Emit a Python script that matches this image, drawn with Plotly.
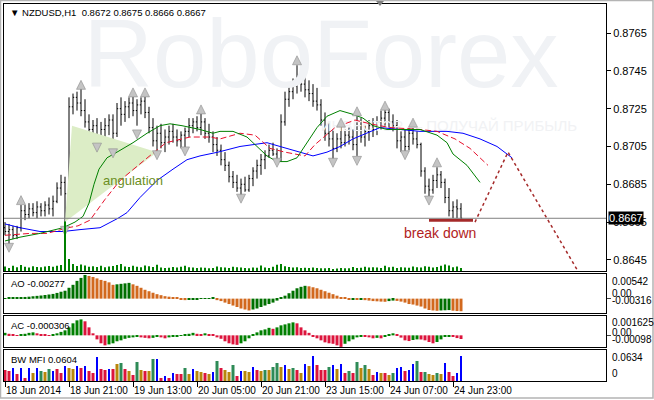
import plotly.graph_objects as go

# NZDUSD H1, one entry per hourly bar; bar 0 = 18 Jun 2014 05:00
opens = [
    0.8662, 0.8660, 0.8661, 0.8658, 0.8662, 0.8671, 0.8669, 0.8672, 0.8670, 0.8673,
    0.8671, 0.8674, 0.8672, 0.8676, 0.8683, 0.8686, 0.8680, 0.8726, 0.8731, 0.8728,
    0.8724, 0.8718, 0.8714, 0.8716, 0.8709, 0.8714, 0.8716, 0.8719, 0.8712, 0.8725,
    0.8722, 0.8726, 0.8728, 0.8724, 0.8727, 0.8729, 0.8723, 0.8715, 0.8708, 0.8712,
    0.8707, 0.8710, 0.8713, 0.8710, 0.8708, 0.8711, 0.8713, 0.8716, 0.8718, 0.8715,
    0.8718, 0.8712, 0.8710, 0.8706, 0.8703, 0.8698, 0.8695, 0.8689, 0.8686, 0.8683,
    0.8685, 0.8682, 0.8688, 0.8692, 0.8695, 0.8698, 0.8700, 0.8703, 0.8701, 0.8698,
    0.8718, 0.8730, 0.8734, 0.8737, 0.8742, 0.8738, 0.8735, 0.8733, 0.8729, 0.8727,
    0.8719, 0.8712, 0.8709, 0.8704, 0.8709, 0.8707, 0.8711, 0.8710, 0.8706, 0.8716,
    0.8710, 0.8713, 0.8716, 0.8714, 0.8718, 0.8720, 0.8723, 0.8718, 0.8716, 0.8708,
    0.8710, 0.8705, 0.8712, 0.8709, 0.8706, 0.8692, 0.8684, 0.8682, 0.8687, 0.8690,
    0.8686, 0.8678, 0.8671, 0.8673, 0.8672,
]
highs = [
    0.8665, 0.8664, 0.8663, 0.8663, 0.8674, 0.8674, 0.8675, 0.8675, 0.8676, 0.8675,
    0.8676, 0.8678, 0.8679, 0.8686, 0.8690, 0.8689, 0.8731, 0.8733, 0.8734, 0.8737,
    0.8730, 0.8722, 0.8719, 0.8720, 0.8718, 0.8720, 0.8722, 0.8722, 0.8728, 0.8731,
    0.8729, 0.8731, 0.8733, 0.8730, 0.8731, 0.8734, 0.8726, 0.8720, 0.8716, 0.8717,
    0.8714, 0.8716, 0.8717, 0.8714, 0.8713, 0.8715, 0.8720, 0.8720, 0.8721, 0.8723,
    0.8720, 0.8717, 0.8713, 0.8710, 0.8706, 0.8702, 0.8697, 0.8692, 0.8690, 0.8688,
    0.8689, 0.8690, 0.8694, 0.8698, 0.8701, 0.8703, 0.8706, 0.8707, 0.8704, 0.8722,
    0.8734, 0.8738, 0.8741, 0.8748, 0.8746, 0.8743, 0.8740, 0.8738, 0.8736, 0.8730,
    0.8723, 0.8718, 0.8714, 0.8712, 0.8716, 0.8714, 0.8715, 0.8714, 0.8721, 0.8720,
    0.8716, 0.8719, 0.8720, 0.8721, 0.8724, 0.8726, 0.8725, 0.8722, 0.8719, 0.8713,
    0.8714, 0.8715, 0.8717, 0.8713, 0.8707, 0.8694, 0.8688, 0.8690, 0.8694, 0.8692,
    0.8688, 0.8683, 0.8676, 0.8677, 0.8675,
]
lows = [
    0.8658, 0.8652, 0.8656, 0.8656, 0.8660, 0.8666, 0.8667, 0.8668, 0.8667, 0.8668,
    0.8668, 0.8669, 0.8668, 0.8675, 0.8679, 0.8665, 0.8679, 0.8722, 0.8724, 0.8721,
    0.8715, 0.8710, 0.8709, 0.8703, 0.8706, 0.8710, 0.8711, 0.8705, 0.8710, 0.8716,
    0.8718, 0.8720, 0.8721, 0.8716, 0.8722, 0.8720, 0.8712, 0.8705, 0.8701, 0.8704,
    0.8702, 0.8706, 0.8707, 0.8705, 0.8704, 0.8702, 0.8710, 0.8712, 0.8713, 0.8711,
    0.8709, 0.8707, 0.8702, 0.8700, 0.8695, 0.8692, 0.8686, 0.8683, 0.8681, 0.8678,
    0.8681, 0.8681, 0.8684, 0.8688, 0.8690, 0.8693, 0.8699, 0.8700, 0.8696, 0.8697,
    0.8716, 0.8726, 0.8730, 0.8733, 0.8734, 0.8731, 0.8729, 0.8726, 0.8724, 0.8716,
    0.8708, 0.8705, 0.8698, 0.8702, 0.8704, 0.8705, 0.8706, 0.8703, 0.8700, 0.8707,
    0.8705, 0.8708, 0.8710, 0.8711, 0.8714, 0.8716, 0.8715, 0.8713, 0.8704, 0.8702,
    0.8700, 0.8703, 0.8706, 0.8704, 0.8689, 0.8680, 0.8678, 0.8680, 0.8683, 0.8683,
    0.8675, 0.8668, 0.8667, 0.8667, 0.8666,
]
closes = [
    0.8660, 0.8661, 0.8658, 0.8662, 0.8671, 0.8669, 0.8672, 0.8670, 0.8673, 0.8671,
    0.8674, 0.8672, 0.8676, 0.8683, 0.8686, 0.8680, 0.8726, 0.8731, 0.8728, 0.8724,
    0.8718, 0.8714, 0.8716, 0.8709, 0.8714, 0.8716, 0.8719, 0.8712, 0.8725, 0.8722,
    0.8726, 0.8728, 0.8724, 0.8727, 0.8729, 0.8723, 0.8715, 0.8708, 0.8712, 0.8707,
    0.8710, 0.8713, 0.8710, 0.8708, 0.8711, 0.8713, 0.8716, 0.8718, 0.8715, 0.8718,
    0.8712, 0.8710, 0.8706, 0.8703, 0.8698, 0.8695, 0.8689, 0.8686, 0.8683, 0.8685,
    0.8682, 0.8688, 0.8692, 0.8695, 0.8698, 0.8700, 0.8703, 0.8701, 0.8698, 0.8718,
    0.8730, 0.8734, 0.8737, 0.8742, 0.8738, 0.8735, 0.8733, 0.8729, 0.8727, 0.8719,
    0.8712, 0.8709, 0.8704, 0.8709, 0.8707, 0.8711, 0.8710, 0.8706, 0.8716, 0.8710,
    0.8713, 0.8716, 0.8714, 0.8718, 0.8720, 0.8723, 0.8718, 0.8716, 0.8708, 0.8710,
    0.8705, 0.8712, 0.8709, 0.8706, 0.8692, 0.8684, 0.8682, 0.8687, 0.8690, 0.8686,
    0.8678, 0.8671, 0.8673, 0.8672, 0.8667,
]
volumes = [
    340, 230, 390, 290, 450, 320, 260, 360, 300, 290,
    340, 380, 320, 390, 450, 3700, 900, 530, 380, 490,
    420, 320, 360, 300, 390, 290, 340, 380, 450, 530,
    340, 300, 390, 320, 290, 420, 360, 300, 470, 260,
    230, 250, 300, 270, 320, 390, 290, 260, 230, 270,
    240, 210, 230, 340, 290, 260, 230, 320, 290, 260,
    230, 210, 270, 240, 410, 260, 230, 320, 470, 530,
    360, 300, 260, 290, 230, 240, 230, 260, 230, 200,
    210, 230, 150, 180, 230, 200, 210, 300, 230, 240,
    320, 260, 290, 270, 230, 390, 290, 320, 230, 290,
    270, 240, 340, 290, 260, 360, 320, 270, 300, 390,
    480, 420, 290, 340, 230,
]
bars = list(range(len(closes)))

tick_bars = [0, 16, 32, 48, 64, 80, 96, 112]
tick_text = ["18 Jun 2014", "18 Jun 21:00", "19 Jun 13:00", "20 Jun 05:00",
             "20 Jun 21:00", "23 Jun 15:00", "24 Jun 07:00", "24 Jun 23:00"]
price_ticks = [0.8645, 0.8665, 0.8685, 0.8705, 0.8725, 0.8745, 0.8765]
last_price = 0.8667

# Alligator lines (shifted forward past the last bar)
jaw_x = [0, 3.75, 8.75, 14.5, 18.75, 23.75, 28.25, 30.5, 33.75, 38, 42, 45.5, 48.75,
         53.25, 58.75, 62, 65.5, 68.75, 73.75, 77, 80.5, 83.75, 87, 90.5, 93.75,
         98.75, 103.75, 110.5, 114.5, 118.75, 123, 126.75]
jaw_y = [0.8664, 0.8662, 0.8660, 0.8660, 0.8661, 0.8662, 0.8667, 0.8670, 0.8678,
         0.8687, 0.8693, 0.8698, 0.8700, 0.8702, 0.8705, 0.8706, 0.8707, 0.8705,
         0.8702, 0.8700, 0.8702, 0.8705, 0.8709, 0.8712, 0.8715, 0.8714, 0.8713,
         0.8713, 0.8712, 0.8709, 0.8705, 0.8699]
teeth_x = [0, 6.25, 10.5, 13.75, 15.75, 18.25, 21.25, 25, 28.75, 35, 40.25, 46.25,
           51.25, 53.75, 58.75, 62.5, 66.25, 70, 75, 77.5, 82.5, 87.5, 91.25, 96.25,
           103.75, 108, 112.5, 116.25, 120.75]
teeth_y = [0.8658, 0.8659, 0.8659, 0.8661, 0.8662, 0.8663, 0.8666, 0.8677, 0.8687,
           0.8698, 0.8707, 0.8710, 0.8710, 0.8709, 0.8712, 0.8711, 0.8704, 0.8702,
           0.8700, 0.8706, 0.8715, 0.8719, 0.8717, 0.8715, 0.8714, 0.8713, 0.8709,
           0.8704, 0.8695]
lips_x = [0, 3.75, 8.75, 14.5, 17.5, 19.5, 21, 22.25, 23.5, 25.5, 28, 32, 35.5, 38.75,
          41.25, 44.25, 48.75, 52, 53.75, 57, 60.5, 63, 65.5, 68, 70.5, 73, 75.5, 78,
          80.5, 83.75, 87, 89.5, 92, 95.5, 98.75, 103.75, 108, 110.5, 112, 115.5, 118.75]
lips_y = [0.8655, 0.8657, 0.8659, 0.8662, 0.8665, 0.8668, 0.8675, 0.8685, 0.8693,
          0.8699, 0.8702, 0.8707, 0.8712, 0.8716, 0.8717, 0.8716, 0.8714, 0.8712,
          0.8713, 0.8713, 0.8710, 0.8705, 0.8700, 0.8697, 0.8697, 0.8699, 0.8707,
          0.8715, 0.8721, 0.8724, 0.8722, 0.8720, 0.8716, 0.8714, 0.8714, 0.8714,
          0.8711, 0.8707, 0.8701, 0.8695, 0.8686]

# fractal arrows
frac_up_x = [4, 19, 32, 35, 49, 73, 84, 88, 95, 102, 108]
frac_up_y = [0.8679, 0.8740, 0.8736, 0.8736, 0.8727, 0.8753, 0.8720, 0.8726, 0.8729,
             0.8720, 0.8699]
frac_dn_x = [1, 15, 23, 27, 33, 38, 45, 59, 68, 82, 88, 100, 106]
frac_dn_y = [0.8649, 0.8658, 0.8702, 0.8699, 0.8709, 0.8698, 0.8700, 0.8675, 0.8694,
             0.8694, 0.8695, 0.8698, 0.8674]

# drawings on the chart
angulation_x = [16.75, 38, 15]
angulation_y = [0.8716, 0.8702, 0.8665]
breakdown_x = [106, 117]
breakdown_y = [0.8666, 0.8666]
forecast_x = [117.5, 125.75, 143.25]
forecast_y = [0.8665, 0.8702, 0.8639]

# Awesome Oscillator
ao = [
    0.00011, 0.00015, 0.00020, 0.00024, 0.00030, 0.00037, 0.00043, 0.00052, 0.00061, 0.00069,
    0.00080, 0.00091, 0.00104, 0.00126, 0.00152, 0.00174, 0.00239, 0.00304, 0.00391, 0.00456,
    0.00521, 0.00499, 0.00477, 0.00445, 0.00412, 0.00391, 0.00358, 0.00304, 0.00315, 0.00326,
    0.00336, 0.00347, 0.00315, 0.00282, 0.00239, 0.00195, 0.00163, 0.00130, 0.00098, 0.00076,
    0.00054, 0.00043, 0.00033, 0.00022, -0.00022, -0.00033, -0.00026, -0.00020, -0.00013, -0.00007,
    0.00007, 0.00013, 0.00017, -0.00033, -0.00054, -0.00087, -0.00119, -0.00152, -0.00184, -0.00217,
    -0.00239, -0.00260, -0.00239, -0.00217, -0.00184, -0.00152, -0.00119, -0.00087, -0.00043, 0.00022,
    0.00065, 0.00119, 0.00174, 0.00228, 0.00260, 0.00282, 0.00271, 0.00250, 0.00228, 0.00195,
    0.00163, 0.00130, 0.00098, 0.00065, 0.00033, 0.00015, -0.00015, -0.00011, -0.00017, -0.00011,
    -0.00033, -0.00043, -0.00054, -0.00059, -0.00065, -0.00069, -0.00054, -0.00043, -0.00050, -0.00065,
    -0.00087, -0.00119, -0.00130, -0.00152, -0.00174, -0.00217, -0.00250, -0.00260, -0.00267, -0.00260,
    -0.00256, -0.00252, -0.00265, -0.00273, -0.00277,
]
# Accelerator Oscillator
ac = [
    0.00021, 0.00013, 0.00008, -0.00004, 0.00007, 0.00013, 0.00021, 0.00025, 0.00017, 0.00008,
    0.00004, -0.00004, 0.00004, 0.00017, 0.00029, 0.00042, 0.00067, 0.00101, 0.00126, 0.00134,
    0.00118, 0.00067, 0.00017, -0.00034, -0.00067, -0.00084, -0.00076, -0.00067, -0.00050, -0.00042,
    -0.00029, -0.00021, -0.00017, -0.00013, -0.00017, -0.00021, -0.00025, -0.00021, -0.00013, -0.00017,
    -0.00025, -0.00017, -0.00013, -0.00008, -0.00004, 0.00004, 0.00013, 0.00021, 0.00013, 0.00004,
    0.00017, 0.00008, 0.00004, -0.00017, -0.00029, -0.00050, -0.00067, -0.00076, -0.00080, -0.00067,
    -0.00050, -0.00025, 0.00008, 0.00025, 0.00042, 0.00050, 0.00063, 0.00055, 0.00067, 0.00084,
    0.00092, 0.00101, 0.00109, 0.00101, 0.00067, 0.00042, 0.00021, -0.00008, -0.00025, -0.00042,
    -0.00059, -0.00067, -0.00071, -0.00084, -0.00097, -0.00071, -0.00050, -0.00034, -0.00017, -0.00008,
    -0.00010, -0.00017, -0.00025, -0.00021, -0.00025, -0.00008, 0.00008, 0.00017, 0.00008, -0.00019,
    -0.00042, -0.00048, -0.00039, -0.00034, -0.00035, -0.00042, -0.00056, -0.00067, -0.00056, -0.00034,
    -0.00014, -0.00008, -0.00010, -0.00023, -0.000306,
]
# Market Facilitation Index and its bar state
# G = green (mfi up, vol up), F = fade, K = fake, S = squat
mfi = [
    0.0266, 0.0242, 0.0315, 0.0169, 0.0315, 0.0073, 0.0315, 0.0194, 0.0315, 0.0242,
    0.0218, 0.0290, 0.0242, 0.0290, 0.0194, 0.0363, 0.0315, 0.0290, 0.0363, 0.0315,
    0.0363, 0.0242, 0.0194, 0.0581, 0.0290, 0.0266, 0.0290, 0.0290, 0.0411, 0.0436,
    0.0290, 0.0242, 0.0145, 0.0460, 0.0266, 0.0242, 0.0242, 0.0532, 0.0532, 0.0073,
    0.0121, 0.0073, 0.0194, 0.0169, 0.0169, 0.0315, 0.0169, 0.0290, 0.0242, 0.0218,
    0.0194, 0.0169, 0.0218, 0.0484, 0.0315, 0.0266, 0.0218, 0.0387, 0.0121, 0.0242,
    0.0242, 0.0218, 0.0339, 0.0266, 0.0242, 0.0266, 0.0266, 0.0339, 0.0436, 0.0339,
    0.0387, 0.0290, 0.0315, 0.0266, 0.0194, 0.0411, 0.0363, 0.0605, 0.0387, 0.0266,
    0.0266, 0.0339, 0.0387, 0.0290, 0.0411, 0.0194, 0.0242, 0.0194, 0.0460, 0.0315,
    0.0387, 0.0290, 0.0145, 0.0218, 0.0194, 0.0194, 0.0145, 0.0194, 0.0315, 0.0339,
    0.0242, 0.0266, 0.0411, 0.0484, 0.0218, 0.0218, 0.0169, 0.0145, 0.0194, 0.0169,
    0.0436, 0.0218, 0.0121, 0.0194, 0.0604,
]
mfi_state = list(
    "SSKSKSKFKG" "FGKSSKFFKS" "KSSKSSKSFG" "SFSGFSFGKS" "KSKSSGFKFF"
    "SFKGSFFGSK" "FFKSFGFGGF" "KFGSFKFKSS" "SGKFKSGSGF" "GFSKFSFGKK"
    "SKKGSGFFGF" "KSSKK"
)

# ---------------- styling ----------------
W, H = 654, 400
L, R, T, B = 4, 48, 4, 19
PW, PH = W - L - R, H - T - B
FONT = "Liberation Sans"


def px(x):
    return (x - L) / PW


def py(y):
    return (H - B - y) / PH


AO_UP, AO_DN = "#007000", "#d2691e"
AC_UP, AC_DN = "#008000", "#dc143c"
MFI_COL = {"G": "#2e8b57", "F": "#b8860b", "K": "#0000ff", "S": "#dc143c"}

ao_col = [AO_UP if i == 0 or ao[i] > ao[i - 1] else AO_DN for i in range(len(ao))]
ac_col = [AC_UP if i == 0 or ac[i] > ac[i - 1] else AC_DN for i in range(len(ac))]
mfi_col = [MFI_COL[s] for s in mfi_state]
mfi_w = [0.25 if s == "K" else 0.75 for s in mfi_state]

fig = go.Figure()

# watermark behind everything
fig.add_trace(go.Scatter(x=[79], y=[0.8749], mode="text", text=["RoboForex"],
                         textfont=dict(size=96, color="#f0f2f5", family=FONT),
                         hoverinfo="skip", cliponaxis=False))
fig.add_trace(go.Scatter(x=[111], y=[0.87153], mode="text",
                         text=["ИНВЕСТОР — ПОЛУЧАЙ ПРИБЫЛЬ"],
                         textfont=dict(size=15, color="#f1f2f4", family=FONT),
                         hoverinfo="skip"))

fig.add_trace(go.Scatter(x=angulation_x, y=angulation_y, fill="toself", mode="none",
                         fillcolor="#dcedc6", hoverinfo="skip"))

fig.add_trace(go.Bar(x=bars, y=volumes, yaxis="y5", marker_color="#008000",
                     marker_line_width=0, width=0.25))

fig.add_trace(go.Ohlc(x=bars, open=opens, high=highs, low=lows, close=closes,
                      increasing=dict(line=dict(color="black", width=1)),
                      decreasing=dict(line=dict(color="black", width=1)),
                      tickwidth=0.3))

fig.add_trace(go.Scatter(x=jaw_x, y=jaw_y, mode="lines", line=dict(color="#0000ff", width=1)))
fig.add_trace(go.Scatter(x=teeth_x, y=teeth_y, mode="lines",
                         line=dict(color="#e8102c", width=1, dash="6px,3px")))
fig.add_trace(go.Scatter(x=lips_x, y=lips_y, mode="lines", line=dict(color="#008000", width=1)))

arrow_marker = dict(size=9, color="#c4c4c4", line=dict(color="#8c8c8c", width=0.6))
fig.add_trace(go.Scatter(x=frac_up_x, y=frac_up_y, mode="markers",
                         marker=dict(symbol="arrow-up", **arrow_marker)))
fig.add_trace(go.Scatter(x=frac_dn_x, y=frac_dn_y, mode="markers",
                         marker=dict(symbol="arrow-down", **arrow_marker)))

fig.add_trace(go.Scatter(x=breakdown_x, y=breakdown_y, mode="lines",
                         line=dict(color="#a52a2a", width=3)))
fig.add_trace(go.Scatter(x=forecast_x, y=forecast_y, mode="lines",
                         line=dict(color="#a52a2a", width=1.5, dash="dot")))

fig.add_trace(go.Bar(x=bars, y=ao, xaxis="x2", yaxis="y2", marker_color=ao_col,
                     marker_line_width=0, width=0.75))
fig.add_trace(go.Bar(x=bars, y=ac, xaxis="x3", yaxis="y3", marker_color=ac_col,
                     marker_line_width=0, width=0.75))
fig.add_trace(go.Bar(x=bars, y=mfi, xaxis="x4", yaxis="y4", marker_color=mfi_col,
                     marker_line_width=0, width=mfi_w))

x_range = [(L - 5) / 4, (L + PW - 5) / 4]
frame = dict(showline=True, mirror=True, linecolor="black", linewidth=1,
             showgrid=False, zeroline=False)
xbase = dict(range=x_range, showticklabels=False, ticks="", **frame)

fig.update_layout(
    width=W, height=H, margin=dict(l=L, r=R, t=T, b=B, autoexpand=False),
    paper_bgcolor="white", plot_bgcolor="white", showlegend=False,
    font=dict(family=FONT, size=11, color="black"),
    xaxis=dict(anchor="y", domain=[0, 1], rangeslider=dict(visible=False), **xbase),
    xaxis2=dict(anchor="y2", matches="x", **xbase),
    xaxis3=dict(anchor="y3", matches="x", **xbase),
    xaxis4=dict(anchor="y4", matches="x", range=x_range, ticks="outside", ticklen=5,
                tickcolor="black", tickvals=tick_bars, ticktext=tick_text, tickangle=0,
                ticklabelposition="outside right", tickfont=dict(size=10), **frame),
    yaxis=dict(domain=[py(271), 1], range=[0.86391, 0.87804], side="right",
               tickvals=price_ticks, tickformat=".4f", ticks="outside", ticklen=4,
               tickcolor="black", tickfont=dict(size=11), **frame),
    yaxis5=dict(overlaying="y", range=[0, 20000], visible=False),
    yaxis2=dict(domain=[py(313), py(274)], range=[-0.00316, 0.00542], side="right",
                tickvals=[0.0], ticks="outside", ticklen=4, showticklabels=False, **frame),
    yaxis3=dict(domain=[py(347), py(316)], range=[-0.00098, 0.001625], side="right",
                tickvals=[0.0], ticks="outside", ticklen=4, showticklabels=False, **frame),
    yaxis4=dict(domain=[0, py(350)], range=[0, 0.075], side="right",
                tickvals=[0.0], ticks="", showticklabels=False, **frame),
)

fig.add_shape(type="line", xref="paper", yref="y", x0=0, x1=1,
              y0=last_price, y1=last_price, line=dict(color="#808080", width=1))
# grey window frame around the whole picture
fig.add_shape(type="rect", xref="paper", yref="paper", x0=px(0.5), x1=px(653),
              y0=py(398), y1=py(0.5), line=dict(color="#b4b4b4", width=1.5))
# chart-shift marker at the top edge
fig.add_shape(type="path", xref="paper", yref="paper",
              path=f"M {px(376)},{py(1)} L {px(384)},{py(1)} L {px(380)},{py(6)} Z",
              fillcolor="#808080", line=dict(width=0))

notes = [
    (8, 12, "▼ NZDUSD,H1\u00a0\u00a00.8672 0.8675 0.8666 0.8667", 9.5),
    (9, 283, "AO -0.00277", 9.5),
    (9, 325, "AC -0.000306", 9.5),
    (9, 359, "BW MFI 0.0604", 9.5),
    (610, 281, "0.00542", 10),
    (610, 293, "0.00", 10),
    (610, 300, "-0.00316", 10),
    (610, 322, "0.001625", 10),
    (610, 332, "0.00", 10),
    (610, 339, "-0.00098", 10),
    (610, 357, "0.0634", 10),
    (610, 373, "0", 10),
]
for x, y, text, size in notes:
    fig.add_annotation(xref="paper", yref="paper", x=px(x), y=py(y), text=text,
                       showarrow=False, xanchor="left", yanchor="middle",
                       font=dict(size=size, color="black"))

fig.add_annotation(xref="paper", yref="y", x=1, y=last_price, text="0.8667",
                   showarrow=False, xanchor="left", yanchor="middle", xshift=2,
                   bgcolor="black", font=dict(size=11, color="white"), borderpad=0)
fig.add_annotation(xref="paper", yref="paper", x=px(133), y=py(181), text="angulation",
                   showarrow=False, xanchor="center", yanchor="middle",
                   font=dict(size=13, color="#6b8e23"))
fig.add_annotation(xref="paper", yref="paper", x=px(440), y=py(233), text="break down",
                   showarrow=False, xanchor="center", yanchor="middle",
                   font=dict(size=14, color="#b22222"))

fig.write_html("out.html", config={"displayModeBar": False},
               post_script="document.body.style.margin='0';"
                           "document.body.style.overflow='hidden';")
